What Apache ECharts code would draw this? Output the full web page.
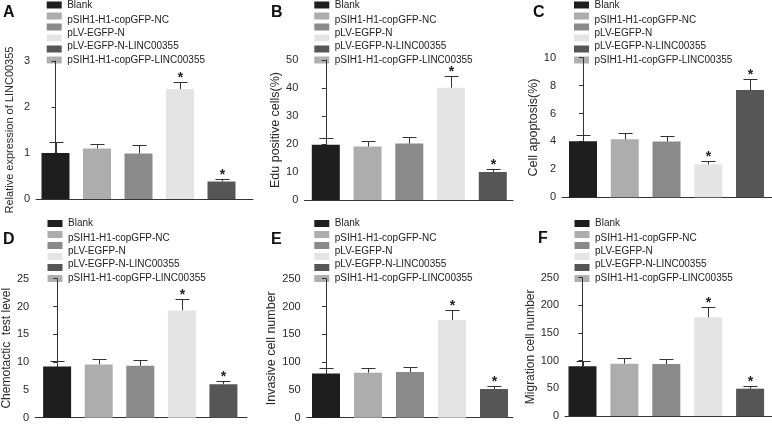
<!DOCTYPE html>
<html><head><meta charset="utf-8">
<script src="https://cdn.jsdelivr.net/npm/echarts@6/dist/echarts.min.js"></script>
<style>html,body{margin:0;padding:0;background:#fff}#c{width:772px;height:425px}</style>
</head><body><div id="c"></div>
<script>
// ---------- data ----------
const categories = ['Blank','pSIH1-H1-copGFP-NC','pLV-EGFP-N','pLV-EGFP-N-LINC00355','pSIH1-H1-copGFP-LINC00355'];
const legendLabels = ['Blank','pSIH1-H1-copGFP-NC','pLV-EGFP-N','pLV-EGFP-N-LINC00355','pSIH1-H1-copGFP-LINC00355'];
const panelLetters = ['A','B','C','D','E','F'];
const yNames = ['Relative expression of LINC00355','Edu positive cells(%)','Cell apoptosis(%)','Chemotactic  test level','Invasive cell number','Migration cell number'];

const valuesA = [1.00, 1.10, 0.99, 2.39, 0.38];
const errorsA = [0.23, 0.09, 0.18, 0.15, 0.05];
const valuesB = [19.7, 19.1, 20.2, 40.1, 10.0];
const errorsB = [2.3, 1.9, 2.2, 4.1, 1.2];
const valuesC = [4.01, 4.15, 3.99, 2.36, 7.68];
const errorsC = [0.43, 0.43, 0.40, 0.27, 0.77];
const valuesD = [9.23, 9.59, 9.35, 19.3, 6.0];
const errorsD = [0.96, 1.02, 1.02, 2.0, 0.53];
const valuesE = [79.7, 80.9, 82.1, 175.7, 51.6];
const errorsE = [9.0, 9.0, 9.0, 17.9, 5.4];
const valuesF = [89.8, 94.6, 94.0, 178.3, 49.4];
const errorsF = [10.2, 10.2, 9.6, 18.1, 4.8];
const significant = [0, 0, 0, 1, 1];

const ticksA = [0, 1, 2, 3];
const ticksB = [0, 10, 20, 30, 40, 50];
const ticksC = [0, 2, 4, 6, 8, 10];
const ticksD = [0, 5, 10, 15, 20, 25];
const ticksE = [0, 50, 100, 150, 200, 250];
const ticksF = [0, 50, 100, 150, 200, 250];

// ---------- styles / layout ----------
const barColors = ['#1e1e1e', '#adadad', '#8a8a8a', '#e4e4e4', '#565656'];
const swatchColors = ['#1e1e1e', '#adadad', '#8a8a8a', '#e4e4e4', '#565656', '#b0b0b0'];
const FONT = '"Liberation Sans", Arial, Helvetica, sans-serif';

const layout = [
  {left:36,    top:61,    bottom:199,   right:253, c1:55.5,  s:41.5,  gap:21,   nfs:11,   lx:46.7,  ly:5,     tx:3,   ty:13},
  {left:304.3, top:60,    bottom:200,   right:513, c1:325.8, s:41.75, gap:20.4, nfs:12.5, lx:314.3, ly:5,     tx:271, ty:13},
  {left:562,   top:57.7,  bottom:197.3, right:772, c1:583,   s:41.75, gap:18,   nfs:12.5, lx:574,   ly:5,     tx:533, ty:13},
  {left:33,    top:278.7, bottom:417.7, right:247, c1:55.2,  s:42,    gap:18.4, nfs:12,   lx:47.5,  ly:223.5, tx:3,   ty:240},
  {left:306.7, top:278.7, bottom:417.7, right:513, c1:326,   s:42,    gap:20.8, nfs:12.5, lx:314.3, ly:223.5, tx:271, ty:240},
  {left:565,   top:277.7, bottom:416,   right:772, c1:582.5, s:41.9,  gap:20.4, nfs:12,   lx:574.5, ly:223.5, tx:538, ty:239}
];
const swatchOffsets = [0, 11, 22, 33, 44, 55];
const textOffsets = [0, 15, 28, 41, 55];

const panels = [
  {values:valuesA, errors:errorsA, ticks:ticksA},
  {values:valuesB, errors:errorsB, ticks:ticksB},
  {values:valuesC, errors:errorsC, ticks:ticksC},
  {values:valuesD, errors:errorsD, ticks:ticksD},
  {values:valuesE, errors:errorsE, ticks:ticksE},
  {values:valuesF, errors:errorsF, ticks:ticksF}
];

const grids = [], xAxes = [], yAxes = [], series = [], graphics = [];

panels.forEach((p, k) => {
  const L = layout[k];
  grids.push({left:L.left, top:L.top, width:L.right - L.left, height:L.bottom - L.top, containLabel:false});
  xAxes.push({
    type:'value', gridIndex:k,
    min:(L.left - L.c1) / L.s, max:(L.right - L.c1) / L.s,
    axisLine:{show:true, onZero:false, lineStyle:{color:'#333', width:1}},
    axisTick:{show:false}, axisLabel:{show:false}, splitLine:{show:false}
  });
  const t = p.ticks;
  yAxes.push({
    type:'value', gridIndex:k,
    min:t[0], max:t[t.length - 1], interval:t[1] - t[0],
    name:yNames[k], nameLocation:'middle', nameGap:L.gap,
    nameTextStyle:{fontFamily:FONT, fontSize:L.nfs, color:'#2a2a2a'},
    axisLine:{show:true, lineStyle:{color:'#333', width:1}},
    axisTick:{show:true, length:4, lineStyle:{color:'#333'}},
    axisLabel:{fontFamily:FONT, fontSize:11, color:'#2a2a2a', margin:6},
    splitLine:{show:false}
  });
  series.push({
    type:'bar', xAxisIndex:k, yAxisIndex:k, barWidth:28, z:2,
    data:p.values.map((v, i) => ({name:categories[i], value:[i, v], itemStyle:{color:barColors[i]}})),
    silent:true, animation:false
  });
  series.push({
    type:'custom', xAxisIndex:k, yAxisIndex:k, z:3, silent:true, animation:false,
    data:p.values.map((v, i) => [i, v, p.errors[i], significant[i]]),
    renderItem(params, api) {
      const i = api.value(0), v = api.value(1), e = api.value(2), sig = api.value(3);
      const p0 = api.coord([i, v]);
      const p1 = api.coord([i, v + e]);
      const x = Math.round(p0[0]) + 0.5;
      const yTop = Math.round(p1[1]) + 0.5;
      const ch = [
        {type:'line', shape:{x1:x, y1:p0[1], x2:x, y2:yTop}, style:{stroke:'#333', lineWidth:1}},
        {type:'line', shape:{x1:x - 7, y1:yTop, x2:x + 7, y2:yTop}, style:{stroke:'#333', lineWidth:1}}
      ];
      if (sig) ch.push({type:'text', x:x, y:yTop + 3,
        style:{text:'*', fill:'#222', font:'bold 14px ' + FONT, textAlign:'center', textVerticalAlign:'bottom'}});
      return {type:'group', children:ch};
    }
  });
  // panel letter
  graphics.push({type:'text', x:L.tx, y:L.ty,
    style:{text:panelLetters[k], fill:'#111', font:'bold 16px ' + FONT, textVerticalAlign:'middle'}});
  // legend swatches
  swatchColors.forEach((c, j) => {
    graphics.push({type:'rect', shape:{x:L.lx, y:L.ly + swatchOffsets[j] - 3.5, width:15, height:7}, style:{fill:c}});
  });
  legendLabels.forEach((s, j) => {
    graphics.push({type:'text', x:L.lx + 20.5, y:L.ly + textOffsets[j],
      style:{text:s, fill:'#222', font:'10px ' + FONT, textVerticalAlign:'middle'}});
  });
});

const chart = echarts.init(document.getElementById('c'), null, {renderer:'canvas'});
chart.setOption({
  animation:false,
  backgroundColor:'#fff',
  grid:grids, xAxis:xAxes, yAxis:yAxes, series:series,
  graphic:{elements:graphics}
});
</script>
</body></html>
